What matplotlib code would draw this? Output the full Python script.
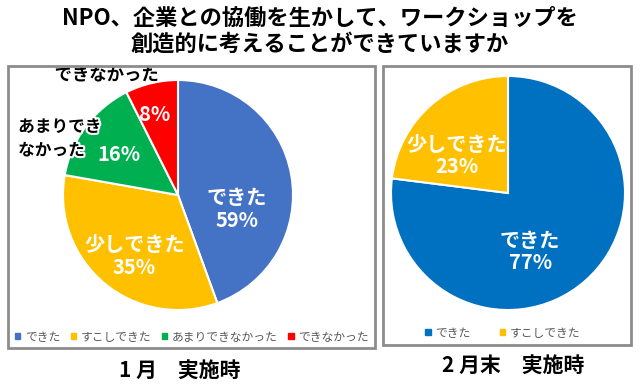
import matplotlib.pyplot as plt
import matplotlib.patheffects as pe
from matplotlib.patches import Rectangle, Patch

plt.rcParams['font.family'] = ['Noto Sans CJK JP', 'DejaVu Sans']

# data
title = "NPO、企業との協働を生かして、ワークショップを\n創造的に考えることができていますか"

jan_labels = ["できた", "すこしできた", "あまりできなかった", "できなかった"]
jan_counts = [12, 9, 4, 2]
jan_pct = ["59%", "35%", "16%", "8%"]
jan_colors = ["#4472C4", "#FFC000", "#00B050", "#FF0000"]

feb_labels = ["できた", "すこしできた"]
feb_values = [77, 23]
feb_pct = ["77%", "23%"]
feb_colors = ["#0070C0", "#FFC000"]

W, H = 640, 390
fig = plt.figure(figsize=(W / 100, H / 100), dpi=100)


def rect(x0, y0, w, h):
    # pixel box (top-left origin) -> figure fraction
    return [x0 / W, 1 - (y0 + h) / H, w / W, h / H]


def draw_pie(cx, cy, r, values, colors):
    ax = fig.add_axes(rect(cx - r, cy - r, 2 * r, 2 * r))
    ax.pie(values, colors=colors, startangle=90, counterclock=False,
           radius=1, wedgeprops=dict(edgecolor="white", linewidth=1.5))
    ax.set_xlim(-1, 1)
    ax.set_ylim(-1, 1)
    ax.axis("off")
    return ax


# frames
for x0, y0, w, h in [(8, 66, 367, 282), (383, 66, 248, 279)]:
    fig.patches.append(Rectangle((x0 / W, 1 - (y0 + h) / H), w / W, h / H,
                                 transform=fig.transFigure, fill=False,
                                 edgecolor="#8c8c8c", linewidth=2))

fig.text(0.5, 1 - 31 / H, title, ha="center", va="center", fontsize=16,
         fontweight="bold", linespacing=1.15)

white = dict(color="white", fontweight="bold", ha="center", va="center")
outline = [pe.withStroke(linewidth=3, foreground="white")]

# 1月
ax1 = draw_pie(178, 195, 115, jan_counts, jan_colors)
ax1.text(0.51, -0.12, jan_labels[0] + "\n" + jan_pct[0], fontsize=14.5,
         linespacing=1.1, **white)
ax1.text(-0.38, -0.53, "少しできた\n" + jan_pct[1], fontsize=14.5,
         linespacing=1.1, **white)
ax1.text(-0.51, 0.35, jan_pct[2], fontsize=14.5, **white)
ax1.text(-0.2, 0.70, jan_pct[3], fontsize=14.5, **white)
ax1.text(-0.62, 1.04, jan_labels[3], fontsize=12.5, ha="center", va="center",
         fontweight="bold", path_effects=outline, clip_on=False)
ax1.text(-1.39, 0.49, "あまりでき\nなかった", fontsize=12, ha="left", va="center",
         fontweight="bold", linespacing=1.4, path_effects=outline, clip_on=False)

fig.legend([Patch(color=c) for c in jan_colors], jan_labels, loc="center",
           bbox_to_anchor=(192 / W, 1 - 337 / H), ncol=4, frameon=False,
           fontsize=8.5, labelcolor="#595959", handlelength=0.45, handleheight=0.45,
           handletextpad=0.4, columnspacing=0.9)

# 2月末
ax2 = draw_pie(508, 193, 117, feb_values, feb_colors)
ax2.text(0.19, -0.50, feb_labels[0] + "\n" + feb_pct[0], fontsize=14.5,
         linespacing=1.1, **white)
ax2.text(-0.44, 0.32, "少しできた\n" + feb_pct[1], fontsize=14.5,
         linespacing=1.1, **white)

fig.legend([Patch(color=c) for c in feb_colors], feb_labels, loc="center",
           bbox_to_anchor=(503 / W, 1 - 333 / H), ncol=2, frameon=False,
           fontsize=8.5, labelcolor="#595959", handlelength=0.45, handleheight=0.45,
           handletextpad=0.4, columnspacing=2.5)

fig.text(180 / W, 1 - 370 / H, "1 月　実施時", ha="center", va="center",
         fontsize=15, fontweight="bold")
fig.text(513 / W, 1 - 365 / H, "2 月末　実施時", ha="center", va="center",
         fontsize=15, fontweight="bold")

fig.savefig("out.png", dpi=100)
